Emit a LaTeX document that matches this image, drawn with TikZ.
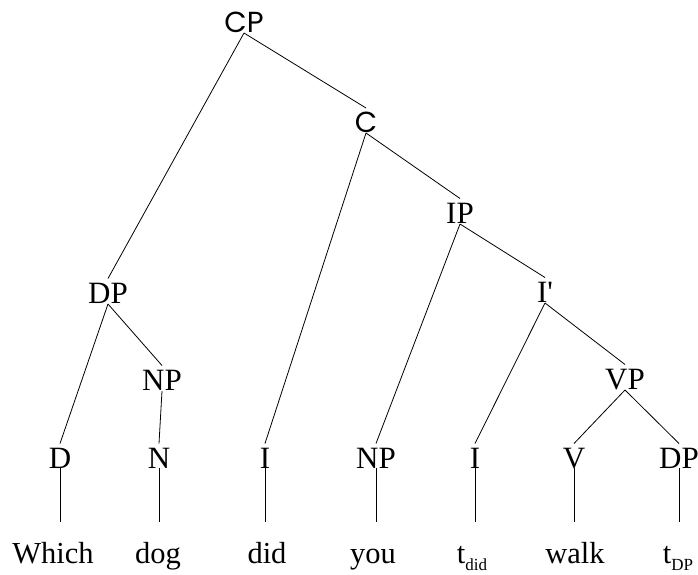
\documentclass[tikz,border=0pt]{standalone}
\usepackage{fontspec}
\setmainfont{Liberation Serif}
\newfontfamily\geofont{Poppins}
\newfontfamily\rawserif{Liberation Serif}[Ligatures=TeXOff]
\tikzset{
  lab/.style={anchor=base, inner sep=0pt, outer sep=0pt, font=\fontsize{31}{33}\selectfont, text height=20.5pt, text depth=0pt},
  geolab/.style={anchor=base, inner sep=0pt, outer sep=0pt, font=\geofont\fontsize{29}{31}\selectfont, text height=20pt, text depth=0pt},
  word/.style={anchor=base, inner sep=0pt, outer sep=0pt, font=\fontsize{30.5}{32}\selectfont, text height=20pt, text depth=0pt},
  branch/.style={draw=black, line width=0.8pt},
}
\newcommand{\subtxt}[1]{\raisebox{-7pt}{\fontsize{17}{17}\selectfont #1}}
\begin{document}
\begin{tikzpicture}[x=1pt, y=-1pt]
\useasboundingbox (0,0) rectangle (698,574);
% phrase labels
\node[geolab] (CP) at (244,32) {CP};
\node[geolab] (C) at (366,132) {C};
\node[lab] (IP) at (460,223) {IP};
\node[lab] (Ib) at (545,302) {{\rawserif I'}};
\node[lab] (VP) at (625,389) {VP};
\node[lab] (DPa) at (108,303) {DP};
\node[lab] (NPa) at (162,390) {NP};
\node[lab] (D) at (60,468) {D};
\node[lab] (N) at (159,468) {N};
\node[lab] (Ia) at (265,468) {I};
\node[lab] (NPb) at (376,468) {NP};
\node[lab] (Ic) at (475,468) {I};
\node[lab] (V) at (574,468) {V};
\node[lab] (DPb) at (679,468) {DP};
% words
\node[word] (w1) at (53,563) {Which};
\node[word] (w2) at (158,563) {dog};
\node[word] (w3) at (267,563) {did};
\node[word] (w4) at (373,563) {you};
\node[word] (w5) at (472,563) {t\subtxt{did}};
\node[word] (w6) at (575,563) {walk};
\node[word] (w7) at (678,563) {t\subtxt{DP}};
% branches
\foreach \p/\c in {CP/C, CP/DPa, C/Ia, C/IP, IP/NPb, IP/Ib, Ib/Ic, Ib/VP, VP/V, VP/DPb, DPa/D, DPa/NPa, NPa/N}
  \draw[branch] ([yshift=-1pt]\p.base) -- ([yshift=4pt]\c.north);
\foreach \p/\c in {D/w1, N/w2, Ia/w3, NPb/w4, Ic/w5, V/w6, DPb/w7}
  \draw[branch] (\p.base) -- ([yshift=21pt]\p.base |- \c.north);
\end{tikzpicture}
\end{document}
